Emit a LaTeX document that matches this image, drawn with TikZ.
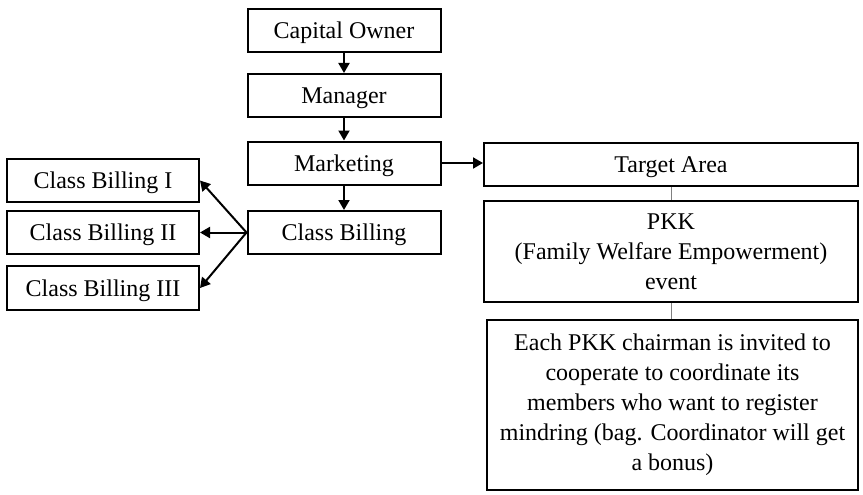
\documentclass[tikz,border=0pt]{standalone}
\usepackage{fontspec}
\setmainfont{Liberation Serif}
\usetikzlibrary{arrows.meta}

\begin{document}
\begin{tikzpicture}[x=1pt,y=-1pt,>={Triangle[length=10pt,width=11pt]},line width=2pt]
\tikzstyle{box}=[rectangle,draw,black,inner sep=0pt,align=center,font=\fontsize{24}{30}\selectfont]
\tikzstyle{oneline}=[text height=16pt,text depth=0pt]
\tikzstyle{midbox}=[box,oneline,minimum width=193pt,minimum height=43pt]
\tikzstyle{leftbox}=[box,oneline,minimum width=192pt,minimum height=43pt]
\tikzstyle{wide}=[box,minimum width=374pt]
\tikzstyle{thin}=[line width=1pt,gray]
\useasboundingbox (0,0) rectangle (863,495);
\node[midbox](CO) at (344,31) {Capital Owner};
\node[midbox](M) at (344,95.5) {Manager};
\node[midbox](MK) at (344,163) {Marketing};
\node[midbox](CB) at (344,232.5) {Class Billing};
\node[leftbox](CB1) at (103,180.5) {Class Billing I};
\node[leftbox](CB2) at (103,232.5) {Class Billing II};
\node[leftbox,minimum height=44pt](CB3) at (103,288) {Class Billing III};
\node[wide,oneline,minimum height=43pt](TA) at (671,164.5) {Target Area};
\node[wide,minimum height=101pt](PKK) at (671,251.5) {PKK\\(Family Welfare Empowerment)\\event};
\node[wide,minimum width=371pt,minimum height=170pt](EP) at (672.5,405) {Each PKK chairman is invited to\\cooperate to coordinate its\\members who want to register\\mindring (bag. Coordinator will get\\a bonus)};



\draw[->] (CO) -> (M);
\draw[->] (M) -> (MK);
\draw[->] (MK) -> (CB);
\draw[->] (CB.west) -> (CB1.east);
\draw[->] (CB.west) -> (CB2.east);
\draw[->] (CB.west) -> (CB3.east);
\draw[->] (MK.east) -> (MK.east -| TA.west);
\draw[thin] (TA) -- (PKK);
\draw[thin] (PKK.south) -- (PKK.south |- EP.north);
\end{tikzpicture}
\end{document}
